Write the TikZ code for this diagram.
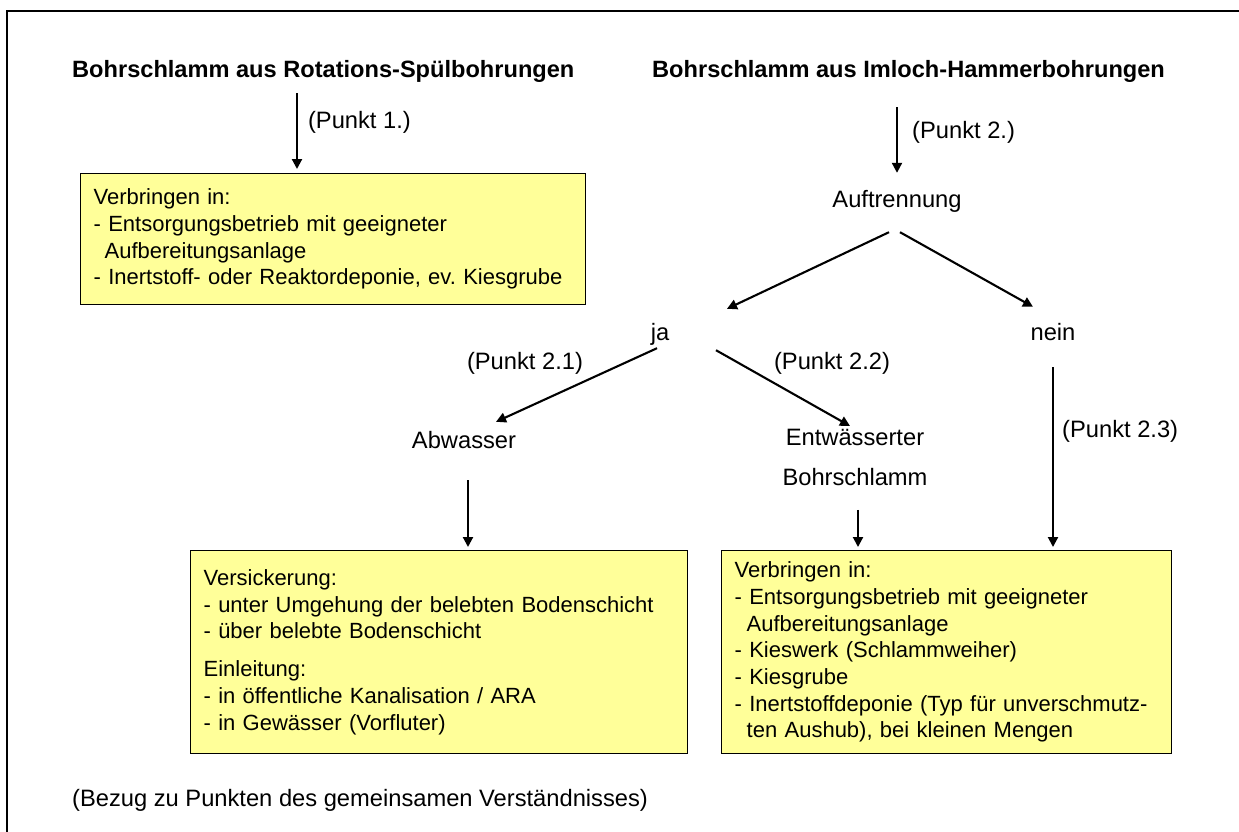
\documentclass[tikz,border=0pt]{standalone}
\usepackage{fontspec}
\setmainfont{Liberation Sans}
\usetikzlibrary{positioning, arrows.meta, calc}
\definecolor{colorKasten}{RGB}{255,255,153}
\frenchspacing

\begin{document}
\begin{tikzpicture}[
	x=1pt, y=-1pt,
	font=\fontsize{23.7}{28}\selectfont,
	schrift/.style={inner sep=0pt, text height=17pt, text depth=5pt},
	titel/.style={schrift, font=\fontsize{23.6}{28}\selectfont\bfseries},
	kasten/.style={rectangle, draw=black, line width=1.2pt, fill=colorKasten,
	               anchor=north west, align=left, inner xsep=13pt, inner ysep=0pt,
	               font=\fontsize{22}{26.7}\selectfont},
	pfeil/.style={-{Triangle[length=10pt, width=10pt]}, line width=2.1pt},
	]

\useasboundingbox (0,0) rectangle (1239,832);
\draw[line width=2.2pt] (7,832) -- (7,11) -- (1239,11);

% Ueberschriften
\node[titel, anchor=base west] (t1) at (72,78) {Bohrschlamm aus Rotations-Spülbohrungen};
\node[titel, anchor=base west] (t2) at (652,78) {Bohrschlamm aus Imloch-Hammerbohrungen};

% Rotations-Spuelbohrungen
\node[kasten, text width=479pt, minimum height=131pt] (b1) at (80,173)
	{Verbringen in:\\- Entsorgungsbetrieb mit geeigneter\\\hspace*{0.5em}Aufbereitungsanlage\\- Inertstoff- oder Reaktordeponie, ev. Kiesgrube};

\coordinate (s1) at (297,0);
\draw[pfeil, shorten <=10pt, shorten >=4pt] (t1.south -| s1) -- node[schrift, anchor=base west, pos=0.5, xshift=10pt] (lp1) {(Punkt 1.)} (b1.north -| s1);

% Imloch-Hammerbohrungen
\node[schrift, anchor=base] (auf) at (897,207) {Auftrennung};
\node[schrift, anchor=base] (ja) at (660,340) {ja};
\node[schrift, anchor=base] (nein) at (1053,340) {nein};
\node[schrift, anchor=base] (abw) at (464,448) {Abwasser};
\node[inner sep=0pt, anchor=north, align=center, font=\fontsize{23.7}{40}\selectfont] (entw) at (855,429) {Entwässerter\\Bohrschlamm};

\draw[pfeil, shorten <=24pt, shorten >=17pt] (t2.south -| auf.north) -- (auf.north);
\node[schrift, anchor=base west] (lp2) at (912,139) {(Punkt 2.)};

\draw[pfeil] ([xshift=-8pt, yshift=-20pt]auf.south) -- ([xshift=67pt, yshift=14pt]ja.north);
\draw[pfeil] ([xshift=3pt, yshift=-20pt]auf.south) -- ([xshift=-20pt, yshift=16pt]nein.north);
\draw[pfeil] ([xshift=-3pt, yshift=-3pt]ja.south) -- ([xshift=32pt, yshift=9pt]abw.north);
\draw[pfeil] ([xshift=56pt, yshift=-5pt]ja.south) -- ([xshift=-5pt, yshift=3pt]entw.north);

\node[schrift, anchor=base] (lp21) at (525,369) {(Punkt 2.1)};
\node[schrift, anchor=base] (lp22) at (832,369) {(Punkt 2.2)};

\node[kasten, text width=471pt, minimum height=203pt] (b2) at (190,550)
	{Versickerung:\\- unter Umgehung der belebten Bodenschicht\\- über belebte Bodenschicht\\[11pt]Einleitung:\\- in öffentliche Kanalisation / ARA\\- in Gewässer (Vorfluter)};
\node[kasten, text width=424pt, minimum height=203pt] (b3) at (721,550)
	{Verbringen in:\\- Entsorgungsbetrieb mit geeigneter\\\hspace*{0.55em}Aufbereitungsanlage\\- Kieswerk (Schlammweiher)\\- Kiesgrube\\- Inertstoffdeponie (Typ für unverschmutz-\\\hspace*{0.55em}ten Aushub), bei kleinen Mengen};

\coordinate (s3) at (468,0);
\coordinate (s4) at (858,0);
\draw[pfeil, shorten <=27pt, shorten >=3pt] (abw.south -| s3) -- (b2.north -| s3);
\draw[pfeil, shorten <=24pt, shorten >=3pt] (entw.south -| s4) -- (b3.north -| s4);
\draw[pfeil, shorten <=22pt, shorten >=3pt] (nein.south) -- (nein.south |- b3.north);
\node[schrift, anchor=base west] (lp23) at (1062,437) {(Punkt 2.3)};

% Fussnote
\node[schrift, anchor=base west] (bezug) at (72,806) {(Bezug zu Punkten des gemeinsamen Verständnisses)};

\end{tikzpicture}
\end{document}
